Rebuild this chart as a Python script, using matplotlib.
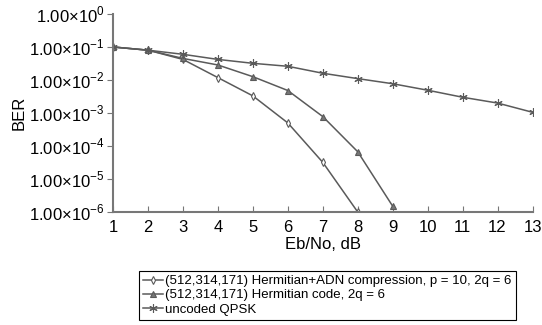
import numpy as np
import matplotlib
matplotlib.use("Agg")
import matplotlib.pyplot as plt
from matplotlib.ticker import FixedLocator, FixedFormatter

# data
ebno = [1, 2, 3, 4, 5, 6, 7, 8, 9, 10, 11, 12, 13]
ber_uncoded = [0.1, 0.08, 0.06, 0.042, 0.032, 0.026, 0.016, 0.011, 0.0077, 0.0049, 0.003, 0.002, 0.00105]

ebno_herm = [1, 2, 3, 4, 5, 6, 7, 8, 9]
ber_herm = [0.1, 0.08, 0.045, 0.0285, 0.0126, 0.0048, 0.00078, 6.7e-5, 1.5e-6]

ebno_adn = [1, 2, 3, 4, 5, 6, 7, 8]
ber_adn = [0.1, 0.08, 0.042, 0.0118, 0.0033, 0.0005, 3.2e-5, 1.0e-6]

labels = ["(512,314,171) Hermitian+ADN compression, p = 10, 2q = 6",
          "(512,314,171) Hermitian code, 2q = 6",
          "uncoded QPSK"]

ytick_vals = [1e0, 1e-1, 1e-2, 1e-3, 1e-4, 1e-5, 1e-6]
ytick_labels = [r"1.00$\times$10$^{0}$", r"1.00$\times$10$^{-1}$", r"1.00$\times$10$^{-2}$",
                r"1.00$\times$10$^{-3}$", r"1.00$\times$10$^{-4}$", r"1.00$\times$10$^{-5}$",
                r"1.00$\times$10$^{-6}$"]

line_col = "#5a5a5a"
plt.rcParams['font.family'] = ['Liberation Sans', 'DejaVu Sans']
plt.rcParams['mathtext.fontset'] = 'custom'
plt.rcParams['mathtext.rm'] = 'Liberation Sans'

fig = plt.figure(figsize=(5.42, 3.25), dpi=100)
ax = fig.add_axes([0.2085, 0.3477, 0.774, 0.6093])

h1, = ax.plot(ebno_adn, ber_adn, color=line_col, lw=1.1, marker='d', ms=4,
              mfc='white', mec=line_col, mew=0.8)
h2, = ax.plot(ebno_herm, ber_herm, color=line_col, lw=1.1, marker='^', ms=4,
              mfc='#777777', mec=line_col, mew=0.8)
h3, = ax.plot(ebno, ber_uncoded, color=line_col, lw=1.1, marker=(6, 2, 0), ms=6,
              mec=line_col, mew=0.8)

ax.set_yscale('log')
ax.set_xlim(1, 13)
ax.set_ylim(1e-6, 1e0)
ax.set_xticks(ebno)
ax.yaxis.set_major_locator(FixedLocator(ytick_vals))
ax.yaxis.set_major_formatter(FixedFormatter(ytick_labels))
ax.yaxis.set_minor_locator(FixedLocator([]))

for s in ['top', 'right']:
    ax.spines[s].set_visible(False)
for s in ['left', 'bottom']:
    ax.spines[s].set_color('#777777')
    ax.spines[s].set_linewidth(1.5)

ax.tick_params(axis='y', direction='out', length=4, color='#777777', labelsize=12, pad=2)
ax.tick_params(axis='x', direction='in', length=4, color='#777777', labelsize=12, pad=6)

ax.set_xlabel("Eb/No, dB", fontsize=12, labelpad=1)
ax.set_ylabel("BER", fontsize=12, labelpad=2)

leg = fig.legend([h1, h2, h3], labels, loc='upper left',
                 bbox_to_anchor=(139 / 542, 1 - 271 / 325), fontsize=9.5,
                 frameon=True, fancybox=False, edgecolor='black', framealpha=1,
                 handlelength=1.5, handletextpad=0.2, borderpad=0.3,
                 labelspacing=0.15, borderaxespad=0)
leg.get_frame().set_linewidth(0.8)

fig.savefig("out.png", dpi=100)
